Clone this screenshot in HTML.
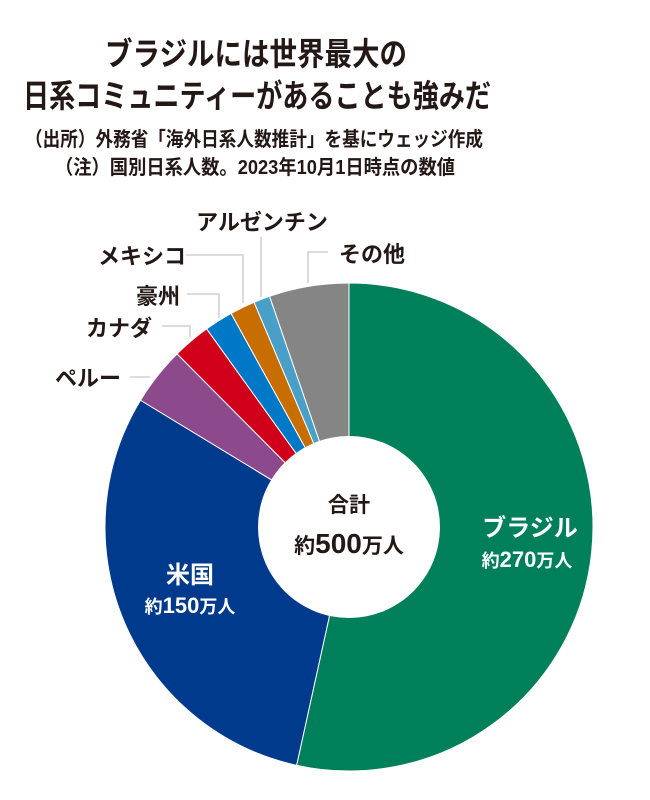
<!DOCTYPE html>
<html><head><meta charset="utf-8"><style>
html,body{margin:0;padding:0;background:#fff;}
svg{display:block;}
text{font-family:"Liberation Sans","Noto Sans CJK JP",sans-serif;fill:#231815;}
</style></head><body>
<svg width="650" height="800" viewBox="0 0 650 800" xmlns="http://www.w3.org/2000/svg">
<text x="256" y="65" text-anchor="middle" font-size="32" font-weight="bold" textLength="302" lengthAdjust="spacingAndGlyphs">ブラジルには世界最大の</text>
<text x="257" y="107" text-anchor="middle" font-size="32" font-weight="bold" textLength="468" lengthAdjust="spacingAndGlyphs">日系コミュニティーがあることも強みだ</text>
<text x="254" y="146" text-anchor="middle" font-size="20" font-weight="bold" textLength="458" lengthAdjust="spacingAndGlyphs">（出所）外務省「海外日系人数推計」を基にウェッジ作成</text>
<text x="255" y="174" text-anchor="middle" font-size="20" font-weight="bold" textLength="400" lengthAdjust="spacingAndGlyphs">（注）国別日系人数。2023年10月1日時点の数値</text>
<g id="pie" stroke="#fff" stroke-width="1"></g>
<circle cx="349" cy="527" r="91" fill="#fff"/>
<g stroke="#c8c8c8" stroke-width="1.3" fill="none">
<polyline points="130,377 150,377"/>
<polyline points="162,326 190,326 190,337"/>
<polyline points="187,294 219,294 219,318"/>
<polyline points="186,255 243,255 243,303"/>
<polyline points="261,237 261,297"/>
<polyline points="328,252 308,252 308,283"/>
</g>
<g font-size="22" font-weight="bold">
<text x="262" y="230" text-anchor="middle">アルゼンチン</text>
<text x="142" y="264" text-anchor="middle">メキシコ</text>
<text x="372" y="262" text-anchor="middle">その他</text>
<text x="158" y="304" text-anchor="middle">豪州</text>
<text x="119" y="336" text-anchor="middle">カナダ</text>
<text x="88" y="386" text-anchor="middle">ペルー</text>
</g>
<text x="349" y="512" text-anchor="middle" font-size="21" font-weight="bold">合計</text>
<text x="349" y="553" text-anchor="middle" font-size="21" font-weight="bold">約<tspan font-size="28">500</tspan>万人</text>
<text x="530" y="536" text-anchor="middle" font-size="24" font-weight="bold" style="fill:#fff">ブラジル</text>
<text x="527" y="567" text-anchor="middle" font-size="18" font-weight="bold" style="fill:#fff">約<tspan font-size="22">270</tspan>万人</text>
<text x="190" y="583" text-anchor="middle" font-size="24" font-weight="bold" style="fill:#fff">米国</text>
<text x="190" y="613" text-anchor="middle" font-size="18" font-weight="bold" style="fill:#fff">約<tspan font-size="22">150</tspan>万人</text>
<script>
var cx=349,cy=527,R=244;
var seg=[[0,192.4,"#00805a"],[192.4,301.3,"#003a8c"],[301.3,315.2,"#8c4a8c"],[315.2,324.3,"#d0001a"],[324.3,331.1,"#0078c8"],[331.1,337.1,"#c86e00"],[337.1,341,"#48a0c8"],[341,360,"#858585"]];
var g=document.getElementById("pie");
function pt(a){var r=a*Math.PI/180;return (cx+R*Math.sin(r)).toFixed(2)+","+(cy-R*Math.cos(r)).toFixed(2);}
seg.forEach(function(s){var p=document.createElementNS("http://www.w3.org/2000/svg","path");
var large=(s[1]-s[0])>180?1:0;
p.setAttribute("d","M"+cx+","+cy+" L"+pt(s[0])+" A"+R+","+R+" 0 "+large+" 1 "+pt(s[1])+" Z");
p.setAttribute("fill",s[2]);g.appendChild(p);});
</script>
</svg>
</body></html>
